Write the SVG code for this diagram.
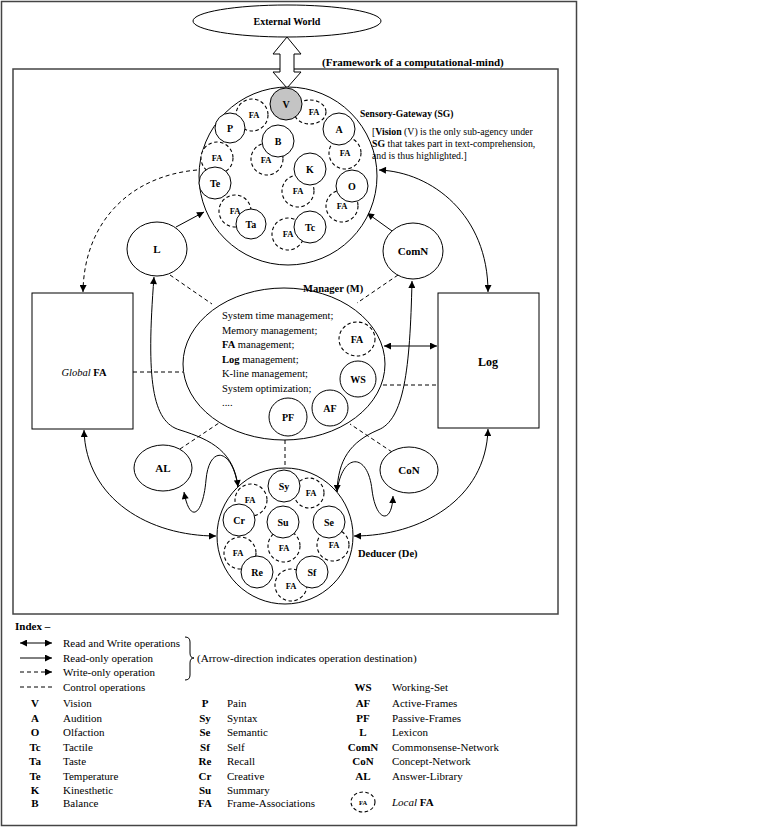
<svg xmlns="http://www.w3.org/2000/svg" width="768" height="828" viewBox="0 0 768 828">
<defs>
<style>
.ln{fill:none;stroke:#000;stroke-width:1}
.da{stroke-dasharray:4 3}
.c{fill:#fff;stroke:#000;stroke-width:1}
.g{fill:#c4c4c4}
.fa{fill:#fff;stroke:#000;stroke-width:1.1;stroke-dasharray:3.5 2.5}
text{font-family:"Liberation Serif","Times New Roman",serif;font-size:11px;fill:#000}
.b{font-weight:bold}
.i{font-style:italic}
.m{text-anchor:middle}
.lab{font-size:10px;font-weight:bold;text-anchor:middle}
.fal{font-size:8.5px;font-weight:bold;text-anchor:middle}
.note{font-size:9.8px}
.mt{font-size:10.5px}
.nl{font-size:11px;font-weight:bold;text-anchor:middle}
.frame{fill:none;stroke:#444;stroke-width:1.5}
</style>
<marker id="ah" viewBox="0 0 10 10" refX="10" refY="5" markerWidth="8" markerHeight="7" orient="auto-start-reverse" markerUnits="userSpaceOnUse"><path d="M0,0 L10,5 L0,10 z" fill="#000"/></marker>
</defs>
<rect width="768" height="828" fill="#fff"/>
<rect class="frame" x="1.5" y="1.5" width="575" height="824"/>
<rect class="frame" x="13" y="69" width="545" height="545"/>

<g id="external-world">
<ellipse class="c" cx="287" cy="21" rx="94" ry="16"/>
<text class="b m" x="287" y="24.5" style="font-size:10px">External World</text>
<polygon class="c" points="287,37 273,54 280,54 280,72 273,72 287,88 301,72 294,72 294,54 301,54"/>
</g>
<text class="b" x="322" y="66">(Framework of a computational-mind)</text>

<g id="connectors">
<path class="ln" d="M379,170 C432,172 488,215 488,292" marker-start="url(#ah)" marker-end="url(#ah)"/>
<path class="ln da" d="M197,170 C130,176 84,222 83,292" marker-end="url(#ah)"/>
<path class="ln" d="M176,227 L204,212" marker-end="url(#ah)"/>
<path class="ln" d="M392,231 L367,213" marker-end="url(#ah)"/>
<path class="ln" d="M84,430 C86,500 150,536 216,536" marker-start="url(#ah)" marker-end="url(#ah)"/>
<path class="ln" d="M488,429 C486,500 420,536 354,536" marker-start="url(#ah)" marker-end="url(#ah)"/>
<path class="ln" d="M384,346 L437,346" marker-start="url(#ah)" marker-end="url(#ah)"/>
<path class="ln" d="M154,277 C146,380 152,422 180,430 C212,440 234,452 238,487" marker-start="url(#ah)" marker-end="url(#ah)"/>
<path class="ln" d="M184,492 C190,525 203,515 206,480 C209,445 232,447 238,487" marker-start="url(#ah)"/>
<path class="ln" d="M412,281 C410,370 404,420 378,430 C350,442 338,460 337,492" marker-start="url(#ah)" marker-end="url(#ah)"/>
<path class="ln" d="M393,496 C392,525 376,522 372,490 C368,452 342,452 337,492" marker-start="url(#ah)"/>
<path class="ln da" d="M133,372 L183,372"/>
<path class="ln da" d="M170,275 L212,304"/>
<path class="ln da" d="M398,275 L357,303"/>
<path class="ln da" d="M180,449 L222,421"/>
<path class="ln da" d="M392,452 L350,424"/>
<path class="ln da" d="M285,440 L285,468"/>
<path class="ln da" d="M376,385 L438,385"/>
</g>

<g id="sensory-gateway">
<circle class="c" cx="288" cy="176" r="89"/>
<ellipse class="fa g" cx="310" cy="112" rx="16" ry="12"/>
<circle class="fa" cx="252" cy="115" r="16"/>
<circle class="fa" cx="217" cy="158" r="16"/>
<circle class="fa" cx="267" cy="159" r="16"/>
<circle class="fa" cx="345" cy="153" r="16"/>
<circle class="fa" cx="298" cy="191" r="16"/>
<circle class="fa" cx="342" cy="206" r="16"/>
<circle class="fa" cx="235" cy="211" r="16"/>
<circle class="fa" cx="288" cy="234" r="16"/>
<circle class="c g" cx="286" cy="104" r="16"/>
<circle class="c" cx="230" cy="128" r="15"/>
<circle class="c" cx="278" cy="141" r="16"/>
<circle class="c" cx="339" cy="129" r="16"/>
<circle class="c" cx="215" cy="183" r="16"/>
<circle class="c" cx="310" cy="169" r="16"/>
<circle class="c" cx="352" cy="186" r="16"/>
<circle class="c" cx="251" cy="224" r="15"/>
<circle class="c" cx="310" cy="227" r="16"/>
<text class="fal" x="314" y="115">FA</text>
<text class="fal" x="254" y="118">FA</text>
<text class="fal" x="217" y="161">FA</text>
<text class="fal" x="266" y="163">FA</text>
<text class="fal" x="345" y="156">FA</text>
<text class="fal" x="298" y="194">FA</text>
<text class="fal" x="342" y="209">FA</text>
<text class="fal" x="235" y="214">FA</text>
<text class="fal" x="288" y="237">FA</text>
<text class="lab" x="286" y="107.5">V</text>
<text class="lab" x="230" y="131.5">P</text>
<text class="lab" x="278" y="144.5">B</text>
<text class="lab" x="339" y="132.5">A</text>
<text class="lab" x="215" y="186.5">Te</text>
<text class="lab" x="310" y="172.5">K</text>
<text class="lab" x="352" y="189.5">O</text>
<text class="lab" x="251" y="227.5">Ta</text>
<text class="lab" x="310" y="230.5">Tc</text>
<text class="b" x="360" y="117" style="font-size:9.6px">Sensory-Gateway (SG)</text>
<text class="note" x="372" y="135">[<tspan class="b">Vision</tspan> (V) is the only sub-agency under</text>
<text class="note" x="372" y="147"><tspan class="b">SG</tspan> that takes part in text-comprehension,</text>
<text class="note" x="372" y="159">and is thus highlighted.]</text>
</g>

<g id="lexicon">
<ellipse class="c" cx="157" cy="249" rx="30" ry="27"/>
<text class="nl" x="157" y="253">L</text>
</g>
<g id="commonsense-network">
<ellipse class="c" cx="413" cy="251" rx="30" ry="28"/>
<text class="nl" x="413" y="255">ComN</text>
</g>
<g id="global-fa">
<rect class="c" x="32" y="293" width="101" height="136"/>
<text class="m" x="84" y="376" style="font-size:10.5px"><tspan class="i">Global</tspan> <tspan class="b">FA</tspan></text>
</g>
<g id="log">
<rect class="c" x="438" y="293" width="101" height="135"/>
<text class="b m" x="488" y="366" style="font-size:12px">Log</text>
</g>

<g id="manager">
<ellipse class="c" cx="284" cy="364" rx="101" ry="76"/>
<text class="b" x="303" y="292" style="font-size:10.5px">Manager (M)</text>
<text class="mt" x="222" y="319">System time management;</text>
<text class="mt" x="222" y="333.5">Memory management;</text>
<text class="mt" x="222" y="348"><tspan class="b">FA</tspan> management;</text>
<text class="mt" x="222" y="362.5"><tspan class="b">Log</tspan> management;</text>
<text class="mt" x="222" y="377">K-line management;</text>
<text class="mt" x="222" y="391.5">System optimization;</text>
<text class="mt" x="222" y="406">....</text>
<ellipse class="fa" cx="357" cy="339" rx="18" ry="17"/>
<text class="lab" x="357" y="343">FA</text>
<circle class="c" cx="358" cy="379" r="18"/>
<text class="lab" x="358" y="383">WS</text>
<circle class="c" cx="330" cy="408" r="18"/>
<text class="lab" x="330" y="412">AF</text>
<circle class="c" cx="288" cy="417" r="19"/>
<text class="lab" x="288" y="421">PF</text>
</g>

<g id="answer-library">
<ellipse class="c" cx="163" cy="468" rx="29" ry="23"/>
<text class="nl" x="163" y="472">AL</text>
</g>
<g id="concept-network">
<ellipse class="c" cx="409" cy="470" rx="29" ry="23"/>
<text class="nl" x="409" y="474">CoN</text>
</g>

<g id="deducer">
<circle class="c" cx="285" cy="536" r="68"/>
<circle class="fa" cx="309" cy="493" r="15"/>
<circle class="fa" cx="251" cy="500" r="16"/>
<circle class="fa" cx="284" cy="546" r="16"/>
<circle class="fa" cx="333" cy="545" r="16"/>
<circle class="fa" cx="240" cy="553" r="16"/>
<circle class="fa" cx="291" cy="585" r="16"/>
<circle class="c" cx="284" cy="486" r="16"/>
<circle class="c" cx="239" cy="520" r="16"/>
<circle class="c" cx="283" cy="522" r="16"/>
<circle class="c" cx="329" cy="522" r="16"/>
<circle class="c" cx="257" cy="572" r="16"/>
<circle class="c" cx="312" cy="572" r="16"/>
<text class="fal" x="311" y="496">FA</text>
<text class="fal" x="250" y="503">FA</text>
<text class="fal" x="284" y="551">FA</text>
<text class="fal" x="334" y="548">FA</text>
<text class="fal" x="238" y="556">FA</text>
<text class="fal" x="291" y="589">FA</text>
<text class="lab" x="284" y="489.5">Sy</text>
<text class="lab" x="239" y="523.5">Cr</text>
<text class="lab" x="283" y="525.5">Su</text>
<text class="lab" x="329" y="525.5">Se</text>
<text class="lab" x="257" y="575.5">Re</text>
<text class="lab" x="312" y="575.5">Sf</text>
<text class="b" x="358" y="557" style="font-size:10.5px">Deducer (De)</text>
</g>

<g id="index">
<text class="b" x="15" y="630">Index –</text>
<path class="ln" d="M20,643 L52,643" marker-start="url(#ah)" marker-end="url(#ah)"/>
<path class="ln" d="M20,658 L52,658" marker-end="url(#ah)"/>
<path class="ln da" d="M20,672 L52,672" marker-end="url(#ah)"/>
<path class="ln da" d="M20,687 L54,687"/>
<text x="63" y="647">Read and Write operations</text>
<text x="63" y="662">Read-only operation</text>
<text x="63" y="676">Write-only operation</text>
<text x="63" y="691">Control operations</text>
<path class="ln" d="M185,637 Q190,637 190,642 L190,653 Q190,658 194,658 Q190,658 190,663 L190,675 Q190,680 185,680"/>
<text x="197" y="662" style="font-size:11.2px">(Arrow-direction indicates operation destination)</text>
<text class="m b" x="35" y="707">V</text><text class="m b" x="35" y="721.5">A</text><text class="m b" x="35" y="736">O</text><text class="m b" x="35" y="750.5">Tc</text><text class="m b" x="35" y="765">Ta</text><text class="m b" x="35" y="779.5">Te</text><text class="m b" x="35" y="794">K</text><text class="m b" x="35" y="807">B</text>
<text class="m b" x="205" y="707">P</text><text class="m b" x="205" y="721.5">Sy</text><text class="m b" x="205" y="736">Se</text><text class="m b" x="205" y="750.5">Sf</text><text class="m b" x="205" y="765">Re</text><text class="m b" x="205" y="779.5">Cr</text><text class="m b" x="205" y="794">Su</text><text class="m b" x="205" y="807">FA</text>
<text class="m b" x="363" y="691">WS</text><text class="m b" x="363" y="707">AF</text><text class="m b" x="363" y="721.5">PF</text><text class="m b" x="363" y="736">L</text><text class="m b" x="363" y="750.5">ComN</text><text class="m b" x="363" y="765">CoN</text><text class="m b" x="363" y="779.5">AL</text>
<text x="63" y="707">Vision</text><text x="63" y="721.5">Audition</text><text x="63" y="736">Olfaction</text><text x="63" y="750.5">Tactile</text><text x="63" y="765">Taste</text><text x="63" y="779.5">Temperature</text><text x="63" y="794">Kinesthetic</text><text x="63" y="807">Balance</text>
<text x="227" y="707">Pain</text><text x="227" y="721.5">Syntax</text><text x="227" y="736">Semantic</text><text x="227" y="750.5">Self</text><text x="227" y="765">Recall</text><text x="227" y="779.5">Creative</text><text x="227" y="794">Summary</text><text x="227" y="807">Frame-Associations</text>
<text x="392" y="691">Working-Set</text><text x="392" y="707">Active-Frames</text><text x="392" y="721.5">Passive-Frames</text><text x="392" y="736">Lexicon</text><text x="392" y="750.5">Commonsense-Network</text><text x="392" y="765">Concept-Network</text><text x="392" y="779.5">Answer-Library</text>
<ellipse class="fa" cx="363" cy="802" rx="12" ry="10"/>
<text class="fal" x="363" y="804.5" style="font-size:6.5px">FA</text>
<text x="392" y="806"><tspan class="i">Local</tspan> <tspan class="b">FA</tspan></text>
</g>
</svg>
